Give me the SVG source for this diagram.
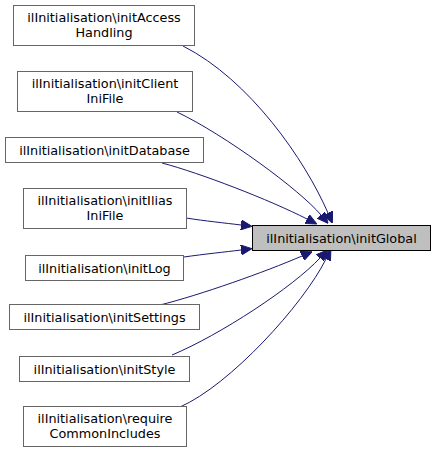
<svg xmlns="http://www.w3.org/2000/svg" width="436" height="453" viewBox="0 0 436 453">
<defs>
<style>
.node rect{fill:#ffffff;stroke:#666666;stroke-width:1}
.node.cur rect{fill:#bfbfbf;stroke:#000000}
.node text{font-family:"DejaVu Sans",sans-serif;font-size:12.8px;fill:#000000;text-anchor:middle}
.edges path{fill:none;stroke:#191970;stroke-width:1}
</style>
<marker id="ah" markerUnits="userSpaceOnUse" markerWidth="11" markerHeight="10" refX="0" refY="5" orient="auto" viewBox="0 0 11 10">
<path d="M0,0 L11,5 L0,10 z" fill="#191970" stroke="#191970" stroke-width="1"/>
</marker>
</defs>
<rect width="436" height="453" fill="#ffffff"/>
<g class="edges">
<path d="M183,46 C250,80 305,160 328,213" marker-end="url(#ah)"/>
<path d="M177,112 C225,135 300,190 321,215" marker-end="url(#ah)"/>
<path d="M162,163 C200,173 270,200 307,219" marker-end="url(#ah)"/>
<path d="M186,218 C205,221 225,223 241,225" marker-end="url(#ah)"/>
<path d="M184,257 C205,254 225,252 241,250" marker-end="url(#ah)"/>
<path d="M160,305 C200,295 265,272 302,256" marker-end="url(#ah)"/>
<path d="M172,355 C220,335 293,287 320,258" marker-end="url(#ah)"/>
<path d="M180,407 C230,385 303,305 326,259" marker-end="url(#ah)"/>
</g>
<g id="node-initGlobal" class="node cur">
<rect x="252.5" y="225.5" width="178" height="25"/>
<text x="341.5" y="242.5">ilInitialisation\initGlobal</text>
</g>
<g id="node-initAccessHandling" class="node">
<rect x="13.5" y="5.5" width="181" height="40"/>
<text x="104" y="21.5">ilInitialisation\initAccess</text>
<text x="104" y="36.5">Handling</text>
</g>
<g id="node-initClientIniFile" class="node">
<rect x="17.5" y="71.5" width="175" height="40"/>
<text x="105" y="87.5">ilInitialisation\initClient</text>
<text x="105" y="102.5">IniFile</text>
</g>
<g id="node-initDatabase" class="node">
<rect x="5.5" y="137.5" width="198" height="25"/>
<text x="104.5" y="154.5">ilInitialisation\initDatabase</text>
</g>
<g id="node-initIliasIniFile" class="node">
<rect x="23.5" y="188.5" width="163" height="40"/>
<text x="105" y="204.5">ilInitialisation\initIlias</text>
<text x="105" y="219.5">IniFile</text>
</g>
<g id="node-initLog" class="node">
<rect x="25.5" y="255.5" width="158" height="25"/>
<text x="104.5" y="272.5">ilInitialisation\initLog</text>
</g>
<g id="node-initSettings" class="node">
<rect x="9.5" y="304.5" width="190" height="25"/>
<text x="104.5" y="321.5">ilInitialisation\initSettings</text>
</g>
<g id="node-initStyle" class="node">
<rect x="19.5" y="356.5" width="170" height="25"/>
<text x="104.5" y="373.5">ilInitialisation\initStyle</text>
</g>
<g id="node-requireCommonIncludes" class="node">
<rect x="23.5" y="406.5" width="163" height="40"/>
<text x="105" y="422.5">ilInitialisation\require</text>
<text x="105" y="437.5">CommonIncludes</text>
</g>
</svg>
